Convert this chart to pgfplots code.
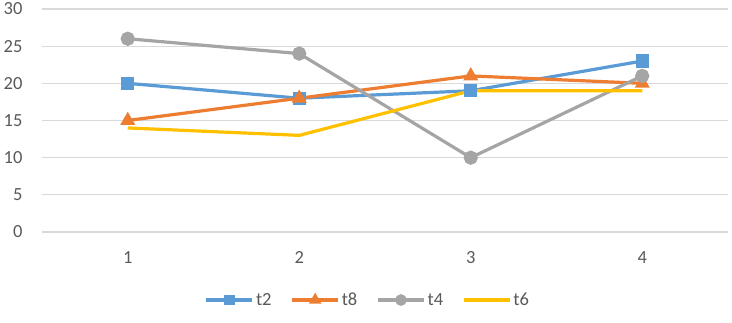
\documentclass[border=0pt]{standalone}
\usepackage{fontspec}
\setmainfont{Carlito}
\usepackage{pgfplots}
\pgfplotsset{compat=1.18}
\definecolor{cB}{HTML}{5B9BD5}
\definecolor{cO}{HTML}{ED7D31}
\definecolor{cG}{HTML}{A5A5A5}
\definecolor{cY}{HTML}{FFC000}
\definecolor{txt}{HTML}{595959}
\definecolor{grd}{HTML}{D9D9D9}
\begin{document}
\begin{tikzpicture}[x=1pt,y=1pt]
\begin{axis}[
  at={(42pt,90pt)}, anchor=south west,
  scale only axis, width=686pt, height=223pt,
  xmin=0.5, xmax=4.5, ymin=0, ymax=30,
  xtick={1,2,3,4}, ytick={0,5,...,30},
  axis line style={draw=none},
  major tick length=0pt,
  ymajorgrids, grid style={grd, line width=1.2pt},
  /pgf/number format/assume math mode=true,
  tick label style={font=\fontsize{18.5}{20}\selectfont, text=txt},
  yticklabel style={xshift=-16pt},
  xticklabel style={yshift=-16pt},
  legend columns=4,
  legend style={draw=none, fill=none, at={(0.475,-0.305)}, anchor=center,
    font=\fontsize{18.5}{20}\selectfont, text=txt,
    /tikz/every even column/.append style={column sep=17pt}},
  legend image code/.code={\draw[mark repeat=2,mark phase=2,#1,mark options={scale=0.75}] plot coordinates {(0pt,0pt) (23pt,0pt) (46pt,0pt)};},
  every axis plot/.append style={line width=3.2pt},
]
\addplot[cB, mark=square*, mark size=5pt] coordinates {(1,20) (2,18) (3,19) (4,23)};
\addlegendentry{t2}
\addplot[cO, mark=triangle*, mark size=5.5pt] coordinates {(1,15) (2,18) (3,21) (4,20)};
\addlegendentry{t8}
\addplot[cG, mark=*, mark size=5.5pt] coordinates {(1,26) (2,24) (3,10) (4,21)};
\addlegendentry{t4}
\addplot[cY, no marks] coordinates {(1,14) (2,13) (3,19) (4,19)};
\addlegendentry{t6}
\end{axis}
\pgfresetboundingbox
\path[use as bounding box] (0,0) rectangle (732pt,322pt);
\end{tikzpicture}
\end{document}
